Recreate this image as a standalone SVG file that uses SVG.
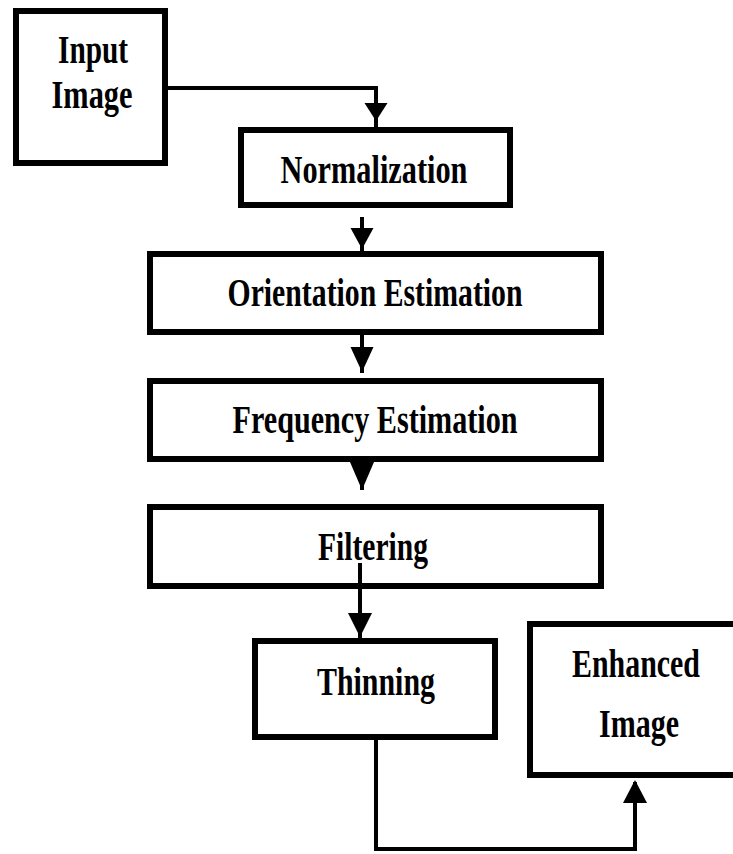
<svg xmlns="http://www.w3.org/2000/svg" width="733" height="854" viewBox="0 0 733 854">
<style>
.box{fill:#fff;stroke:#000;stroke-width:6}
.lbl{font-family:"Liberation Serif","Times New Roman",serif;font-weight:bold;font-size:39px;fill:#000;text-anchor:middle}
.con{fill:none;stroke:#000;stroke-width:4}
.head{fill:#000;stroke:none}
</style>
<rect width="733" height="854" fill="#fff"/>
<g id="connectors">
<path class="con" d="M165,88 H376 V127"/>
<polygon class="head" points="364.5,103 387.5,103 376,121"/>
<path class="con" d="M362,217 V257"/>
<polygon class="head" points="350.5,228 373.5,228 362,249"/>
<path class="con" d="M362,333 V373"/>
<polygon class="head" points="350.5,347 373.5,347 362,372"/>
<path class="con" d="M362,448 V490"/>
<polygon class="head" points="350,462 374,462 362,490"/>
<path class="con" d="M360,563 V638"/>
<polygon class="head" points="348,613 372,613 360,637"/>
<path class="con" d="M376,740 V849 H635 V782"/>
<polygon class="head" points="623,803 647,803 635,780"/>
</g>
<g id="input">
<rect class="box" x="16" y="11" width="149" height="152"/>
<text class="lbl" x="93" y="63" textLength="70" lengthAdjust="spacingAndGlyphs">Input</text>
<text class="lbl" x="92" y="108" textLength="81" lengthAdjust="spacingAndGlyphs">Image</text>
</g>
<g id="normalization">
<rect class="box" x="241" y="130" width="269" height="75"/>
<text class="lbl" x="374" y="183" textLength="187" lengthAdjust="spacingAndGlyphs">Normalization</text>
</g>
<g id="orientation">
<rect class="box" x="150" y="254" width="451" height="78"/>
<text class="lbl" x="375" y="306" textLength="295" lengthAdjust="spacingAndGlyphs">Orientation Estimation</text>
</g>
<g id="frequency">
<rect class="box" x="150" y="381" width="451" height="78"/>
<text class="lbl" x="375" y="433" textLength="285" lengthAdjust="spacingAndGlyphs">Frequency Estimation</text>
</g>
<g id="filtering">
<rect class="box" x="150" y="507" width="451" height="79"/>
<text class="lbl" x="373" y="560" textLength="110" lengthAdjust="spacingAndGlyphs">Filtering</text>
<path class="con" d="M360,563 V586"/>
</g>
<g id="thinning">
<rect class="box" x="255" y="641" width="240" height="96"/>
<text class="lbl" x="376" y="695" textLength="118" lengthAdjust="spacingAndGlyphs">Thinning</text>
</g>
<g id="enhanced">
<rect class="box" x="530" y="624" width="220" height="151"/>
<text class="lbl" x="636" y="677" textLength="128" lengthAdjust="spacingAndGlyphs">Enhanced</text>
<text class="lbl" x="639" y="737" textLength="80" lengthAdjust="spacingAndGlyphs">Image</text>
</g>
</svg>
